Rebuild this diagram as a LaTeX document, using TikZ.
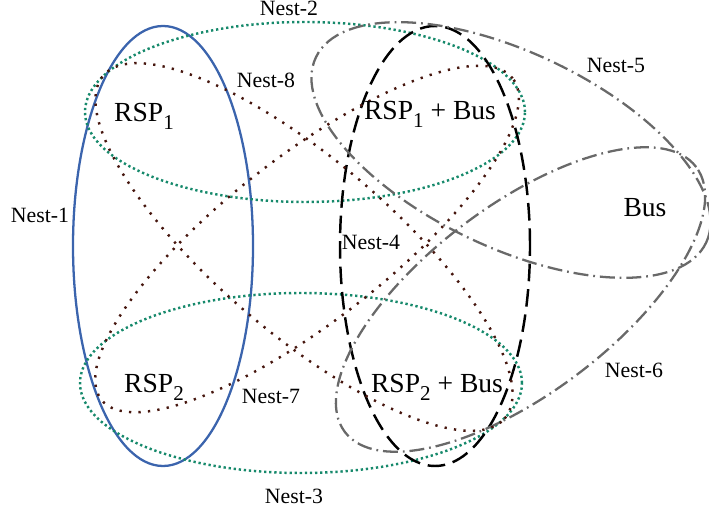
\documentclass[tikz,border=0pt]{standalone}
\usepackage{fontspec}
\setmainfont{Liberation Serif}
\usepackage{tikz}
\definecolor{nestblue}{RGB}{59,100,173}
\definecolor{nestgreen}{RGB}{22,137,107}
\definecolor{nestbrown}{RGB}{70,22,14}
\definecolor{nestgray}{RGB}{105,105,105}
\newcommand{\rsub}[1]{\raisebox{-4pt}{\fontsize{12}{12}\selectfont #1}}

\begin{document}
\begin{tikzpicture}[
  nest/.style={inner sep=0pt,font=\fontsize{12.4}{14}\selectfont},
  set/.style={inner sep=0pt,anchor=base,font=\fontsize{15.7}{18}\selectfont},
  grn/.style={draw=nestgreen,line width=1.4pt,dash pattern=on 1.3pt off 1.6pt},
  brn/.style={draw=nestbrown,line width=1.4pt,dash pattern=on 1.3pt off 4.1pt},
  gry/.style={draw=nestgray,line width=1.3pt,dash pattern=on 8.5pt off 2.8pt on 1pt off 2.8pt}]
\useasboundingbox (0,0) rectangle (14.18,10.28);
%\nests
\draw[nestblue,line width=1.3pt] (3.26,5.36) ellipse (1.8 and 4.4);
\draw[grn] (6.10,8.04) ellipse (4.4 and 1.8);
\draw[grn] (6.02,2.62) ellipse (4.42 and 1.8);
\draw[black,line width=1.4pt,dash pattern=on 10pt off 4.5pt] (8.70,5.36) ellipse (1.9 and 4.4);
\draw[gry,rotate around={-25.4:(10.22,7.28)}] (10.22,7.28) ellipse (4.32 and 1.95);
\draw[gry,rotate around={37:(10.41,4.29)}] (10.41,4.29) ellipse (4.4 and 1.88);
\draw[brn,rotate around={38:(6.14,5.50)}] (6.14,5.50) ellipse (5.22 and 1.64);
\draw[brn,rotate around={-40.5:(6.08,5.34)}] (6.08,5.34) ellipse (5.28 and 1.74);
%sets
\path (2.88,7.84) node(a)[set]{RSP\rsub{1}}
(8.60,7.88) node(b)[set]{RSP\rsub{1} + Bus}
(3.08,2.42) node(c)[set]{RSP\rsub{2}}
(8.74,2.42) node(d)[set]{RSP\rsub{2} + Bus}
(12.90,5.94) node(e)[set]{Bus};
%labels
\path (0.80,5.98) node(n1)[nest]{Nest-1}
(5.78,10.12) node(n2)[nest]{Nest-2}
(5.88,0.36) node(n3)[nest]{Nest-3}
(7.42,5.44) node(n4)[nest]{Nest-4}
(12.32,8.98) node(n5)[nest]{Nest-5}
(12.68,2.88) node(n6)[nest]{Nest-6}
(5.42,2.36) node(n7)[nest]{Nest-7}
(5.32,8.68) node(n8)[nest]{Nest-8};

\end{tikzpicture}
\end{document}
